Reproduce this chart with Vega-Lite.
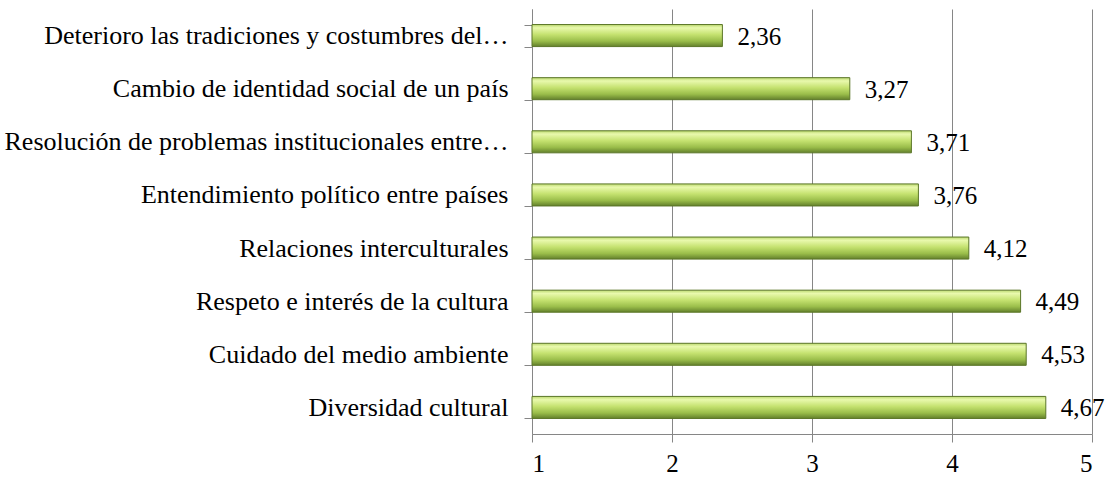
{
  "$schema": "https://vega.github.io/schema/vega-lite/v6.json",
  "width": 560,
  "height": 425,
  "autosize": {"type": "none"},
  "padding": {"left": 532, "top": 9, "right": 22, "bottom": 48},
  "background": "white",
  "config": {
    "locale": {"number": {"decimal": ",", "thousands": ".", "grouping": [3], "currency": ["", " €"]}},
    "view": {"stroke": null},
    "font": "Liberation Serif"
  },
  "data": {
    "values": [
      {"item": "Deterioro las tradiciones y costumbres del…", "value": 2.36},
      {"item": "Cambio de identidad social de un país", "value": 3.27},
      {"item": "Resolución de problemas institucionales  entre…", "value": 3.71},
      {"item": "Entendimiento político entre países", "value": 3.76},
      {"item": "Relaciones interculturales", "value": 4.12},
      {"item": "Respeto e interés de la cultura", "value": 4.49},
      {"item": "Cuidado del medio ambiente", "value": 4.53},
      {"item": "Diversidad cultural", "value": 4.67}
    ]
  },
  "encoding": {
    "y": {
      "field": "item",
      "type": "nominal",
      "sort": null,
      "scale": {"paddingInner": 0.585, "paddingOuter": 0.2925},
      "axis": {
        "title": null,
        "tickBand": "extent",
        "domainColor": "#868686",
        "tickColor": "#868686",
        "tickSize": 8,
        "labelFont": "Liberation Serif",
        "labelFontSize": 26,
        "labelColor": "#000000",
        "labelLimit": 600,
        "labelPadding": 16,
        "grid": false
      }
    }
  },
  "layer": [
    {
      "mark": {
        "type": "bar",
        "stroke": "#5b7628",
        "strokeWidth": 1,
        "fill": {
          "gradient": "linear",
          "x1": 0, "y1": 0, "x2": 0, "y2": 1,
          "stops": [
            {"offset": 0, "color": "#bcd970"},
            {"offset": 0.15, "color": "#e9f9ad"},
            {"offset": 0.45, "color": "#c5e270"},
            {"offset": 0.75, "color": "#9abd4a"},
            {"offset": 1, "color": "#63802c"}
          ]
        }
      },
      "encoding": {
        "x": {
          "field": "value",
          "type": "quantitative",
          "scale": {"domain": [1, 5], "zero": false, "nice": false},
          "axis": {
            "title": null,
            "values": [1, 2, 3, 4, 5],
            "format": "d",
            "grid": true,
            "gridColor": "#868686",
            "gridWidth": 1,
            "domainColor": "#868686",
            "tickColor": "#868686",
            "tickSize": 8,
            "labelFont": "Liberation Serif",
            "labelFontSize": 25,
            "labelColor": "#000000",
            "labelPadding": 9
          }
        },
        "x2": {"datum": 1}
      }
    },
    {
      "mark": {"type": "text", "align": "left", "baseline": "middle", "dx": 15, "dy": 1, "font": "Liberation Serif", "fontSize": 25, "color": "#000000"},
      "encoding": {
        "x": {"field": "value", "type": "quantitative"},
        "text": {"field": "value", "type": "quantitative", "format": ".2f"}
      }
    }
  ]
}
